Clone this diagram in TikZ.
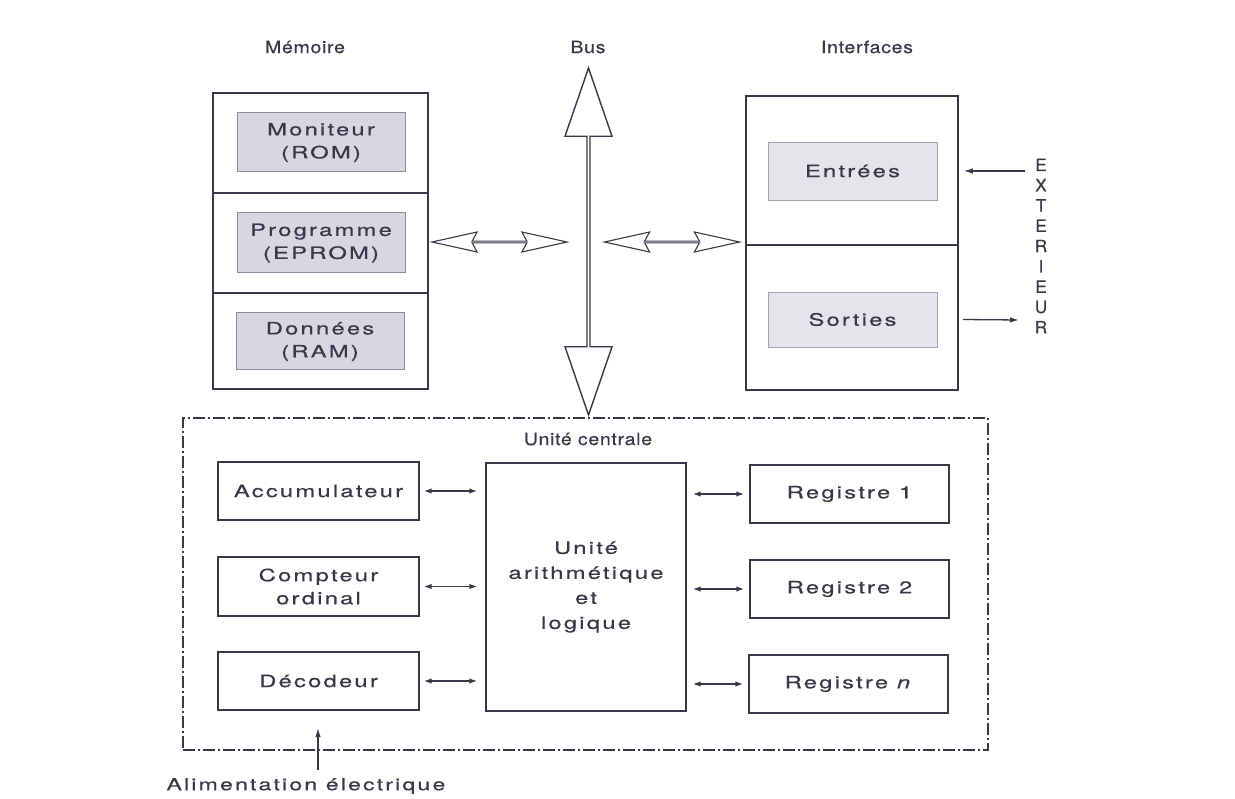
\documentclass[tikz,border=0pt]{standalone}
\usepackage{fontspec}
\setmainfont{TeX Gyre Heros}
\newfontfamily\widefont[FakeStretch=1.4,LetterSpace=13,FakeBold=0.5]{TeX Gyre Heros}
\newfontfamily\headfont[FakeStretch=1.15,LetterSpace=4,FakeBold=0.4]{TeX Gyre Heros}
\newfontfamily\letterfont[FakeBold=0.6]{TeX Gyre Heros}
\usetikzlibrary{shapes.arrows,arrows.meta}
\definecolor{ink}{HTML}{383848}
\definecolor{shade}{HTML}{D8D6E0}
\definecolor{shadeline}{HTML}{8E8C9C}
\definecolor{paleshade}{HTML}{E6E4EA}
\begin{document}
\begin{tikzpicture}[x=1pt,y=-1pt,
  every node/.style={text=ink},
  size/.style 2 args={minimum width=#1pt, minimum height=#2pt},
  frame/.style={draw=ink, line width=1.5pt, inner sep=0pt},
  unitbox/.style={draw=ink, line width=1.4pt, inner sep=0pt, align=center,
    font=\widefont\fontsize{17}{23}\selectfont},
  chip/.style={draw=shadeline, fill=shade, line width=1pt, inner sep=0pt, align=center,
    font=\widefont\fontsize{17}{23}\selectfont},
  port/.style={draw=shadeline!80, fill=paleshade, line width=0.9pt, inner sep=0pt, align=center,
    font=\widefont\fontsize{17}{23}\selectfont},
  heading/.style={font=\headfont\fontsize{17}{20}\selectfont},
  busarrow/.style={shape=double arrow, draw=ink, fill=white, line width=1.4pt,
    rotate=90, minimum height=347pt, minimum width=47pt,
    double arrow head extend=10.5pt, double arrow tip angle=38, inner sep=0pt},
  linkarrow/.style={shape=double arrow, draw=ink, fill=white, line width=1.1pt,
    minimum height=135pt, minimum width=20pt,
    double arrow head extend=6pt, double arrow tip angle=25,
    double arrow head indent=5pt, inner sep=0pt},
  wire/.style={draw=ink, line width=1.4pt, {Latex[length=8pt,width=5.5pt]}-{Latex[length=8pt,width=5.5pt]}},
  signal/.style={draw=ink, line width=1.3pt, -{Latex[length=9pt,width=5.5pt]}},
  cpuframe/.style={draw=ink, line width=1.4pt,
    dash pattern=on 12pt off 3pt on 2pt off 3pt, inner sep=0pt}
]
\useasboundingbox (0,0) rectangle (1235,799);

% headings
\node[heading] (hmem) at (305,47) {Mémoire};
\node[heading] (hbus) at (588,47) {Bus};
\node[heading] (hint) at (867,47) {Interfaces};

% memory column
\node[frame, size={215}{100}] (m1) at (320.5,143) {};
\node[frame, size={215}{100}] (m2) at (320.5,243) {};
\node[frame, size={215}{96}]  (m3) at (320.5,341) {};
\node[chip, size={168}{59}] (rom)   at (321,142.5) {Moniteur\\(ROM)};
\node[chip, size={168}{60}] (eprom) at (321,243)   {Programme\\(EPROM)};
\node[chip, size={168}{57}] (ram)   at (320,341.5) {Données\\(RAM)};

% interfaces column
\node[frame, size={212}{149}] (i1) at (852,170.5) {};
\node[frame, size={212}{145}] (i2) at (852,317.5) {};
\node[port, size={169}{58}] (inp)  at (852.5,171)   {Entrées};
\node[port, size={169}{55}] (outp) at (852.5,319.5) {Sorties};

% bus and links
\node[busarrow] (bus) at (588.5,241.5) {};
\node[linkarrow] (lmem) at (499.5,242) {};
\node[linkarrow] (lint) at (672,242) {};

% outside world
\node[align=center, font=\letterfont\fontsize{17}{20.3}\selectfont] (ext) at (1041,246)
  {E\\X\\T\\E\\R\\I\\E\\U\\R};
\coordinate (extin) at (1025,171);
\coordinate (extout) at (1019,320);
\draw[signal] (extin) -- ([xshift=5pt]i1.east |- inp.east);
\draw[signal] ([xshift=4pt]i2.east |- outp.east) -- (extout);

% central unit
\node[cpuframe, size={805}{332}] (cpu) at (585.5,584) {};
\node[heading] (cpulabel) at (588,439) {Unité centrale};
\node[unitbox, size={201}{58}] (acc) at (318.5,491)   {Accumulateur};
\node[unitbox, size={201}{59}] (pc)  at (318.5,586.5) {Compteur\\ordinal};
\node[unitbox, size={201}{58}] (dec) at (318.5,681)   {Décodeur};
\node[unitbox, size={200}{248}, font=\widefont\fontsize{17}{25}\selectfont] (alu) at (586,587)
  {Unité\\arithmétique\\et\\logique};
\node[unitbox, size={199}{58}] (r1) at (849.5,494) {Registre 1};
\node[unitbox, size={199}{58}] (r2) at (849.5,589) {Registre 2};
\node[unitbox, size={199}{58}] (rn) at (848.5,684) {Registre \textit{n}};

\draw[wire] ([xshift=4pt]acc.east) -- ([xshift=-8pt]alu.west |- acc.east);
\draw[wire] ([xshift=4pt]pc.east) -- ([xshift=-8pt]alu.west |- pc.east);
\draw[wire] ([xshift=4pt]dec.east) -- ([xshift=-8pt]alu.west |- dec.east);
\draw[wire] ([xshift=6pt]alu.east |- r1.west) -- ([xshift=-5pt]r1.west);
\draw[wire] ([xshift=6pt]alu.east |- r2.west) -- ([xshift=-5pt]r2.west);
\draw[wire] ([xshift=6pt]alu.east |- rn.west) -- ([xshift=-5pt]rn.west);

% power supply
\node[font=\widefont\fontsize{16.5}{20}\selectfont, anchor=west] (power) at (163,786) {Alimentation électrique};
\coordinate (powin) at (318,770);
\draw[signal] (powin) -- (318,728);
\end{tikzpicture}
\end{document}
